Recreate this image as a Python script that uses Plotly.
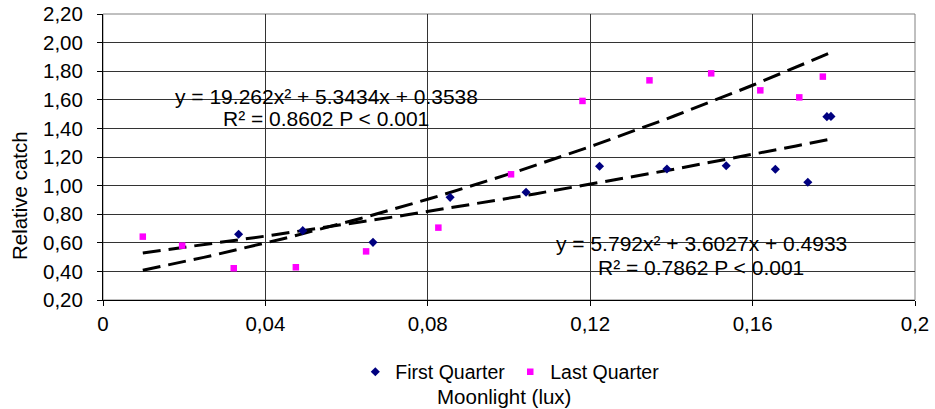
import numpy as np
import plotly.graph_objects as go

# ---- data ----
fq_x = [0.0334, 0.0492, 0.0665, 0.0855, 0.1042, 0.1223, 0.1389, 0.1535, 0.1656, 0.1736, 0.1783, 0.1793]
fq_y = [0.660, 0.685, 0.603, 0.918, 0.953, 1.135, 1.116, 1.139, 1.114, 1.023, 1.482, 1.484]

lq_x = [0.0098, 0.0195, 0.0322, 0.0475, 0.0648, 0.0826, 0.1005, 0.1181, 0.1346, 0.1498, 0.1619, 0.1715, 0.1773]
lq_y = [0.643, 0.580, 0.422, 0.429, 0.540, 0.706, 1.079, 1.592, 1.736, 1.785, 1.666, 1.617, 1.762]

# trend line coefficients (a, b, c) for y = a x^2 + b x + c
fit_upper = [19.262, 5.3434, 0.3538]
fit_lower = [5.792, 3.6027, 0.4933]

x_ticks = [0, 0.04, 0.08, 0.12, 0.16, 0.2]
x_ticktext = ["0", "0,04", "0,08", "0,12", "0,16", "0,2"]
y_ticks = [0.2, 0.4, 0.6, 0.8, 1.0, 1.2, 1.4, 1.6, 1.8, 2.0, 2.2]
y_ticktext = ["0,20", "0,40", "0,60", "0,80", "1,00", "1,20", "1,40", "1,60", "1,80", "2,00", "2,20"]

FONT = "Liberation Sans, Arial, sans-serif"
FS = 20.5

xmin = min(min(fq_x), min(lq_x))
xmax = max(max(fq_x), max(lq_x))
xt = np.linspace(xmin, xmax, 80)

fig = go.Figure()

for coef in (fit_upper, fit_lower):
    a, b, c = coef
    fig.add_trace(go.Scatter(
        x=xt, y=a * xt ** 2 + b * xt + c, mode="lines",
        line=dict(color="black", width=3, dash="18px,8px"),
        showlegend=False, hoverinfo="skip"))

fig.add_trace(go.Scatter(
    x=fq_x, y=fq_y, mode="markers", name="First Quarter",
    marker=dict(symbol="diamond", color="#000080", size=7)))
fig.add_trace(go.Scatter(
    x=lq_x, y=lq_y, mode="markers", name="Last Quarter",
    marker=dict(symbol="square", color="#FF00FF", size=6.5)))

annots = [
    dict(x=0.055, y=1.623, text="y = 19.262x² + 5.3434x + 0.3538"),
    dict(x=0.055, y=1.469, text="R² = 0.8602 P < 0.001"),
    dict(x=0.1473, y=0.592, text="y = 5.792x² + 3.6027x + 0.4933"),
    dict(x=0.1473, y=0.424, text="R² = 0.7862 P < 0.001"),
]
for an in annots:
    fig.add_annotation(xref="x", yref="y", showarrow=False, xanchor="center",
                       yanchor="middle", font=dict(family=FONT, size=21, color="black"), **an)

fig.add_annotation(xref="paper", yref="paper", x=-0.102, y=0.364, text="Relative catch",
                   textangle=-90, showarrow=False, xanchor="center", yanchor="middle",
                   font=dict(family=FONT, size=FS, color="black"))
fig.add_annotation(xref="paper", yref="paper", x=0.494, y=-0.339, text="Moonlight (lux)",
                   showarrow=False, xanchor="center", yanchor="middle",
                   font=dict(family=FONT, size=FS, color="black"))

fig.add_shape(type="rect", xref="paper", yref="paper", x0=0, x1=1, y0=0, y1=1,
              line=dict(color="#808080", width=1), layer="below")

fig.update_layout(
    width=935, height=409,
    margin=dict(l=103, r=20, t=14, b=109, autoexpand=False),
    paper_bgcolor="white", plot_bgcolor="white",
    font=dict(family=FONT, size=FS, color="black"),
    legend=dict(orientation="h", x=0.501, xanchor="center", y=-0.252, yanchor="middle",
                font=dict(family=FONT, size=19.5), itemwidth=30, bgcolor="rgba(0,0,0,0)"),
    xaxis=dict(range=[0, 0.2], tickvals=x_ticks, ticktext=x_ticktext, automargin=False,
               showgrid=True, gridcolor="#333333", gridwidth=1, zeroline=False,
               showline=True, linecolor="black", linewidth=1,
               ticks="outside", ticklen=5, tickcolor="black"),
    yaxis=dict(range=[0.2, 2.2], tickvals=y_ticks, ticktext=y_ticktext, automargin=False,
               showgrid=True, gridcolor="#333333", gridwidth=1, zeroline=False,
               showline=True, linecolor="black", linewidth=1,
               ticks="outside", ticklen=5, tickcolor="black", ticklabelstandoff=10),
)

fig.write_html("out.html")
